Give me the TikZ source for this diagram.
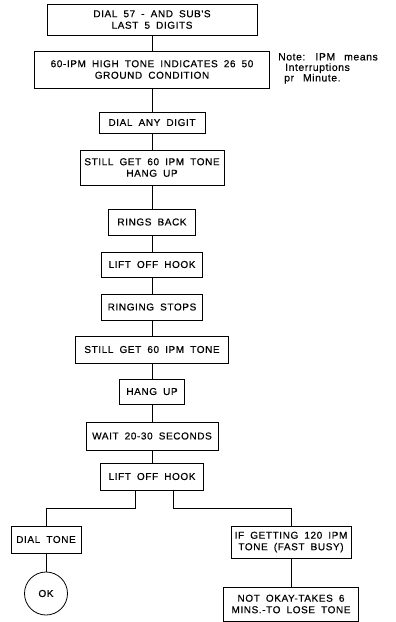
\documentclass[tikz,border=0pt]{standalone}
\usepackage{fontspec}
\newfontfamily\boxfont{Liberation Sans}[LetterSpace=6,WordSpace=1.8,FakeBold=0.5]
\newfontfamily\notefont{Liberation Sans}[LetterSpace=5,WordSpace=2.6,FakeBold=0.4]
\usepackage{tikz}

\begin{document}
\begin{tikzpicture}[
  x=1pt, y=-1pt,
  box/.style={draw, rectangle, line width=0.8pt, inner sep=0pt, align=center,
              font=\boxfont\fontsize{10}{11.5}\selectfont},
  okcircle/.style={draw, circle, line width=0.8pt, inner sep=0pt, minimum size=43pt,
              font=\boxfont\fontsize{10}{11.5}\selectfont},
  link/.style={line width=0.8pt}
]
  \useasboundingbox (0,0) rectangle (396,622);

  \node[box, minimum width=210pt, minimum height=31pt] (dial57)  at (152, 19.5) {DIAL 57 - AND SUB'S\\LAST 5 DIGITS};
  \node[box, minimum width=235pt, minimum height=37pt] (hightone) at (152, 69.5) {60-IPM HIGH TONE INDICATES 26 50\\GROUND CONDITION};
  \node[box, minimum width=106pt, minimum height=21pt] (anydigit) at (152,122.5) {DIAL ANY DIGIT};
  \node[box, minimum width=144pt, minimum height=35pt] (still1)   at (152,167.5) {STILL GET 60 IPM TONE\\HANG UP};
  \node[box, minimum width=87pt,  minimum height=26pt] (rings)    at (152,222)   {RINGS BACK};
  \node[box, minimum width=101pt, minimum height=25pt] (lift1)    at (152,264.5) {LIFT OFF HOOK};
  \node[box, minimum width=101pt, minimum height=26pt] (stops)    at (152,307)   {RINGING STOPS};
  \node[box, minimum width=153pt, minimum height=27pt] (still2)   at (152,349.5) {STILL GET 60 IPM TONE};
  \node[box, minimum width=65pt,  minimum height=25pt] (hangup)   at (152,391.5) {HANG UP};
  \node[box, minimum width=132pt, minimum height=28pt] (wait)     at (152,436)   {WAIT 20-30 SECONDS};
  \node[box, minimum width=103pt, minimum height=27pt] (lift2)    at (152,476.5) {LIFT OFF HOOK};

  \node[box, minimum width=70pt,  minimum height=27pt] (dialtone) at (46,539.5)  {DIAL TONE};
  \node[okcircle] (ok) at (46,593.5) {OK};
  \node[box, minimum width=120pt, minimum height=32pt] (busy)     at (291,542)   {IF GETTING 120 IPM\\TONE (FAST BUSY)};
  \node[box, minimum width=135pt, minimum height=34pt] (notokay)  at (291,604)   {NOT OKAY-TAKES 6\\MINS.-TO LOSE TONE};

  \node[anchor=north west, align=left, inner sep=0pt,
        font=\notefont\fontsize{10.5}{10.5}\selectfont] (note) at (278,53)
        {Note: IPM means\\\hspace*{7pt}Interruptions\\\hspace*{6pt}pr Minute.};

  \draw[link] (dial57) -- (hightone);
  \draw[link] (hightone) -- (anydigit);
  \draw[link] (anydigit) -- (still1);
  \draw[link] (still1) -- (rings);
  \draw[link] (rings) -- (lift1);
  \draw[link] (lift1) -- (stops);
  \draw[link] (stops) -- (still2);
  \draw[link] (still2) -- (hangup);
  \draw[link] (hangup) -- (wait);
  \draw[link] (wait) -- (lift2);
  \draw[link] ([xshift=-17pt]lift2.south) -- ++(0,18) -| (dialtone);
  \draw[link] ([xshift=21pt]lift2.south) -- ++(0,18) -| (busy);
  \draw[link] (dialtone) -- (ok);
  \draw[link] (busy) -- (notokay);
\end{tikzpicture}
\end{document}
